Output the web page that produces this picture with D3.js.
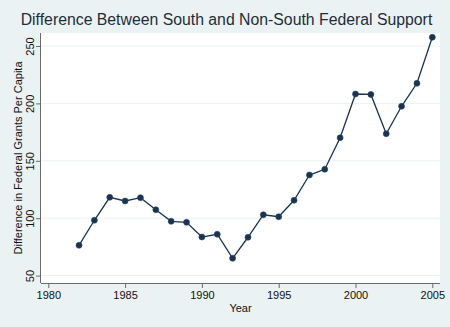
<!DOCTYPE html>
<html><head><meta charset="utf-8">
<script src="https://cdn.jsdelivr.net/npm/d3@7"></script>
<style>
html,body{margin:0;padding:0;background:#eaf2f3;}
svg{display:block;font-family:"Liberation Sans",Arial,sans-serif;}
</style></head>
<body>
<svg id="c" width="450" height="327"></svg>
<script>
const years = [1982,1983,1984,1985,1986,1987,1988,1989,1990,1991,1992,1993,1994,1995,1996,1997,1998,1999,2000,2001,2002,2003,2004,2005];
const values = [76.4,98.2,118.2,115.0,117.9,107.4,97.3,96.4,83.6,86.0,65.1,83.4,103.0,101.3,115.6,137.6,142.6,170.1,208.2,207.8,173.6,197.5,217.5,257.6];
const xTicks = [1980,1985,1990,1995,2000,2005];
const yTicks = [50,100,150,200,250];
const title = "Difference Between South and Non-South Federal Support";
const xTitle = "Year";
const yTitle = "Difference in Federal Grants Per Capita";

const svg = d3.select("#c");
const L = 41, R = 440, T = 33, B = 283;
const x = d3.scaleLinear().domain([1980,2005]).range([48.3,432.3]);
const y = d3.scaleLinear().domain([50,250]).range([275.6,46]);
const FONT = "Liberation Sans, Arial, sans-serif";

svg.append("rect").attr("width",450).attr("height",327).attr("fill","#eaf2f3");
svg.append("rect").attr("x",L).attr("y",T).attr("width",R-L).attr("height",B-T).attr("fill","#ffffff");

// gridlines
svg.append("g").selectAll("line").data(yTicks).join("line")
  .attr("x1",L).attr("x2",R).attr("y1",d=>y(d)).attr("y2",d=>y(d))
  .attr("stroke","#eaf2f3").attr("stroke-width",1);

// x axis
const xa = svg.append("g").attr("transform",`translate(0,${B})`)
  .call(d3.axisBottom(x).tickValues(xTicks).tickFormat(d3.format("d")).tickSize(5).tickPadding(3));
xa.select(".domain").attr("d",`M${L},0.5H${R}`).attr("stroke","#6b6b6b");
xa.selectAll(".tick line").attr("stroke","#6b6b6b");
xa.selectAll(".tick text").attr("font-size","11px").attr("fill","#111").attr("font-family",FONT);

// y axis
const ya = svg.append("g").attr("transform",`translate(${L},0)`)
  .call(d3.axisLeft(y).tickValues(yTicks).tickSize(5).tickPadding(3));
ya.select(".domain").attr("d",`M-0.5,${T}V${B}`).attr("stroke","#6b6b6b");
ya.selectAll(".tick line").attr("stroke","#6b6b6b");
ya.selectAll(".tick text").attr("font-size","11px").attr("fill","#111")
  .attr("font-family",FONT)
  .attr("x",null).attr("dy",null).attr("text-anchor","middle")
  .attr("transform","translate(-7,0) rotate(-90)");

// line
const pts = years.map((yr,i)=>[yr,values[i]]);
svg.append("path").datum(pts)
  .attr("d",d3.line().x(d=>x(d[0])).y(d=>y(d[1])))
  .attr("fill","none").attr("stroke","#1a3350").attr("stroke-width",1.3);
svg.append("g").selectAll("circle").data(pts).join("circle")
  .attr("cx",d=>x(d[0])).attr("cy",d=>y(d[1])).attr("r",3)
  .attr("fill","#1a3350").attr("stroke","#2b4866").attr("stroke-width",0.6);

// titles
svg.append("text").attr("x",226.5).attr("y",25).attr("text-anchor","middle")
  .attr("font-size","15.8px").attr("fill","#1e2d3d").text(title);
svg.append("text").attr("x",(L+R)/2).attr("y",312).attr("text-anchor","middle")
  .attr("font-size","11px").attr("fill","#111").text(xTitle);
svg.append("text").attr("transform",`translate(22,${(T+B)/2}) rotate(-90)`).attr("text-anchor","middle")
  .attr("font-size","11px").attr("fill","#111").text(yTitle);
</script>
</body></html>
